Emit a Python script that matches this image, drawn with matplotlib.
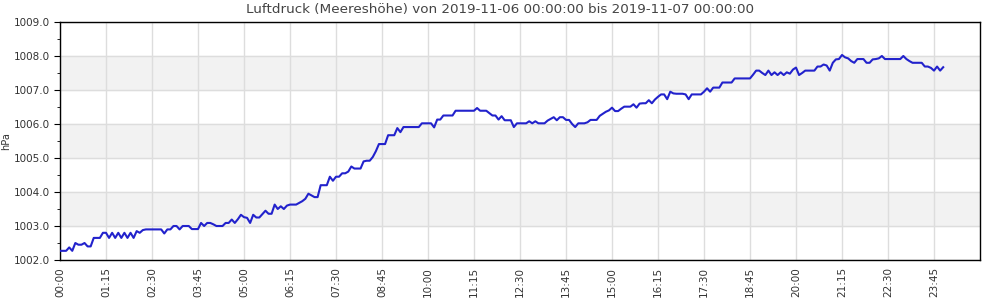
import matplotlib
matplotlib.use("Agg")
import matplotlib.pyplot as plt
import matplotlib.dates as mdates
import pandas as pd

# Luftdruck, 5-Minuten-Werte, eine Zeile pro Stunde (hPa)
pressure = [
    1002.27, 1002.27, 1002.27, 1002.37, 1002.27, 1002.50, 1002.45, 1002.45, 1002.50, 1002.40, 1002.40, 1002.65,
    1002.65, 1002.65, 1002.80, 1002.80, 1002.65, 1002.80, 1002.65, 1002.80, 1002.65, 1002.80, 1002.65, 1002.80,
    1002.65, 1002.85, 1002.80, 1002.88, 1002.90, 1002.90, 1002.90, 1002.90, 1002.90, 1002.90, 1002.78, 1002.90,
    1002.90, 1003.00, 1003.00, 1002.90, 1003.00, 1003.00, 1003.00, 1002.91, 1002.91, 1002.91, 1003.09, 1003.00,
    1003.09, 1003.09, 1003.05, 1003.00, 1003.00, 1003.00, 1003.09, 1003.09, 1003.19, 1003.09, 1003.20, 1003.33,
    1003.26, 1003.24, 1003.09, 1003.33, 1003.25, 1003.25, 1003.35, 1003.45, 1003.36, 1003.36, 1003.63, 1003.50,
    1003.58, 1003.50, 1003.60, 1003.63, 1003.63, 1003.63, 1003.68, 1003.73, 1003.80, 1003.95, 1003.90, 1003.85,
    1003.85, 1004.20, 1004.20, 1004.20, 1004.45, 1004.33, 1004.45, 1004.45, 1004.55, 1004.55, 1004.60, 1004.75,
    1004.69, 1004.69, 1004.69, 1004.90, 1004.92, 1004.92, 1005.03, 1005.20, 1005.41, 1005.41, 1005.41, 1005.67,
    1005.67, 1005.67, 1005.88, 1005.76, 1005.91, 1005.91, 1005.91, 1005.91, 1005.91, 1005.91, 1006.02, 1006.02,
    1006.02, 1006.02, 1005.90, 1006.13, 1006.13, 1006.25, 1006.25, 1006.25, 1006.25, 1006.39, 1006.39, 1006.39,
    1006.39, 1006.39, 1006.39, 1006.39, 1006.47, 1006.39, 1006.39, 1006.39, 1006.32, 1006.25, 1006.25, 1006.13,
    1006.23, 1006.11, 1006.11, 1006.11, 1005.91, 1006.02, 1006.02, 1006.02, 1006.02, 1006.08, 1006.02, 1006.08,
    1006.02, 1006.02, 1006.02, 1006.10, 1006.15, 1006.20, 1006.11, 1006.20, 1006.20, 1006.12, 1006.12, 1006.00,
    1005.91, 1006.02, 1006.02, 1006.02, 1006.05, 1006.12, 1006.12, 1006.12, 1006.24, 1006.30, 1006.36, 1006.40,
    1006.48, 1006.38, 1006.38, 1006.45, 1006.51, 1006.51, 1006.51, 1006.58, 1006.48, 1006.60, 1006.61, 1006.61,
    1006.70, 1006.61, 1006.72, 1006.80, 1006.87, 1006.87, 1006.73, 1006.95, 1006.90, 1006.89, 1006.89, 1006.89,
    1006.87, 1006.73, 1006.87, 1006.87, 1006.87, 1006.87, 1006.95, 1007.05, 1006.95, 1007.07, 1007.07, 1007.07,
    1007.22, 1007.22, 1007.22, 1007.22, 1007.34, 1007.34, 1007.34, 1007.34, 1007.34, 1007.34, 1007.45, 1007.57,
    1007.57, 1007.50, 1007.44, 1007.57, 1007.44, 1007.52, 1007.44, 1007.52, 1007.44, 1007.52, 1007.48, 1007.60,
    1007.66, 1007.44, 1007.50, 1007.57, 1007.57, 1007.57, 1007.57, 1007.69, 1007.69, 1007.75, 1007.72, 1007.57,
    1007.80, 1007.90, 1007.91, 1008.03, 1007.96, 1007.93, 1007.85, 1007.80, 1007.91, 1007.91, 1007.91, 1007.80,
    1007.80, 1007.90, 1007.91, 1007.93, 1008.00, 1007.91, 1007.91, 1007.91, 1007.91, 1007.91, 1007.91, 1008.00,
    1007.91, 1007.85, 1007.80, 1007.80, 1007.80, 1007.80, 1007.69, 1007.69, 1007.65, 1007.57, 1007.69, 1007.57,
    1007.67,
]
start = "2019-11-06 00:00"
title = "Luftdruck (Meereshöhe) von 2019-11-06 00:00:00 bis 2019-11-07 00:00:00"
bands = [(1003, 1004), (1005, 1006), (1007, 1008)]

times = pd.date_range(start, periods=len(pressure), freq="5min")
t0 = pd.Timestamp(start)

fig = plt.figure(figsize=(10, 3), dpi=100)
ax = fig.add_axes([0.06, 0.1333, 0.92, 0.7934])

for lo, hi in bands:
    ax.axhspan(lo, hi, color="#f2f2f2", zorder=0)

ax.plot(times, pressure, color="#2222cc", linewidth=1.5, zorder=3)

ax.set_xlim(t0, t0 + pd.Timedelta(minutes=1500))
ax.set_ylim(1002, 1009)
ax.set_xticks(pd.date_range(start, periods=20, freq="75min"))
ax.xaxis.set_major_formatter(mdates.DateFormatter("%H:%M"))
ax.set_yticks(range(1002, 1010))
ax.set_yticks([v + 0.5 for v in range(1002, 1009)], minor=True)
ax.yaxis.set_major_formatter(matplotlib.ticker.FormatStrFormatter("%.1f"))

ax.grid(True, which="major", color="#dddddd", linewidth=1, zorder=1)
ax.set_axisbelow(True)
ax.tick_params(axis="x", length=0, labelsize=7.5, labelcolor="#333333", rotation=90, pad=5)
ax.tick_params(axis="y", which="major", length=4, labelsize=7.5, labelcolor="#333333")
ax.tick_params(axis="y", which="minor", length=2.5)
for sp in ax.spines.values():
    sp.set_linewidth(1)

fig.text(0.0065, 0.53, "hPa", rotation=90, ha="center", va="center", fontsize=7, color="#333333")
fig.text(0.5, 1 - 10 / 300, title, ha="center", va="center", fontsize=9.7, color="#444444")

fig.savefig("out.png", dpi=100)
